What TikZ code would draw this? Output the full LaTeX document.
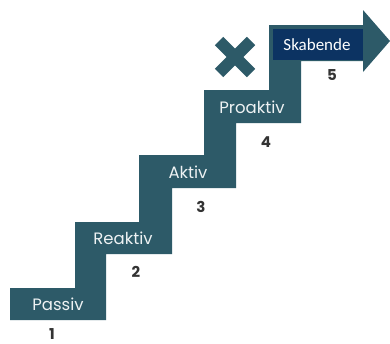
\documentclass[tikz,border=0pt]{standalone}
\usepackage{fontspec}
\setmainfont{Poppins}
\newfontfamily\carlitofont{Carlito}
\definecolor{stepteal}{HTML}{2D5A68}
\definecolor{navy}{HTML}{0C3362}
\definecolor{numgray}{HTML}{333333}
\definecolor{lbl}{HTML}{EEF2F3}
\begin{document}
\begin{tikzpicture}[x=1pt,y=-1pt,
  steplabel/.style={text=lbl,font=\fontsize{16.5}{16.5}\selectfont,inner sep=0pt},
  numlabel/.style={text=numgray,font=\fontsize{15}{15}\selectfont\bfseries,inner sep=0pt}]
\useasboundingbox (0,0) rectangle (390,343);
\fill[white] (0,0) rectangle (390,343);
\fill[stepteal] (10,320) -- (10,288) -- (75,288) -- (75,222) -- (139,222) -- (139,155)
  -- (204,155) -- (204,90) -- (269,90) -- (269,25) -- (363,25) -- (363,10)
  -- (390,41) -- (363,72) -- (363,61) -- (301,61) -- (301,123) -- (236,123)
  -- (236,188) -- (172,188) -- (172,254) -- (106,254) -- (106,320) -- cycle;
\fill[navy] (273,29) rectangle (363,60);
\draw[stepteal,line width=12pt,line cap=butt] (219,41) -- (251,73);
\draw[stepteal,line width=12pt,line cap=butt] (219,73) -- (251,41);
\node[steplabel] (passiv) at (58,304) {Passiv};
\node[steplabel] (reaktiv) at (123,238) {Reaktiv};
\node[steplabel] (aktiv) at (188,172) {Aktiv};
\node[steplabel] (proaktiv) at (252,107) {Proaktiv};
\node[text=white,font=\carlitofont\fontsize{17}{17}\selectfont,inner sep=0pt] (skab) at (317,45) {Skabende};
\node[numlabel] (n1) at (52,334.5) {1};
\node[numlabel] (n2) at (136,272) {2};
\node[numlabel] (n3) at (201,207) {3};
\node[numlabel] (n4) at (266,142) {4};
\node[numlabel] (n5) at (332,75) {5};
\end{tikzpicture}
\end{document}
